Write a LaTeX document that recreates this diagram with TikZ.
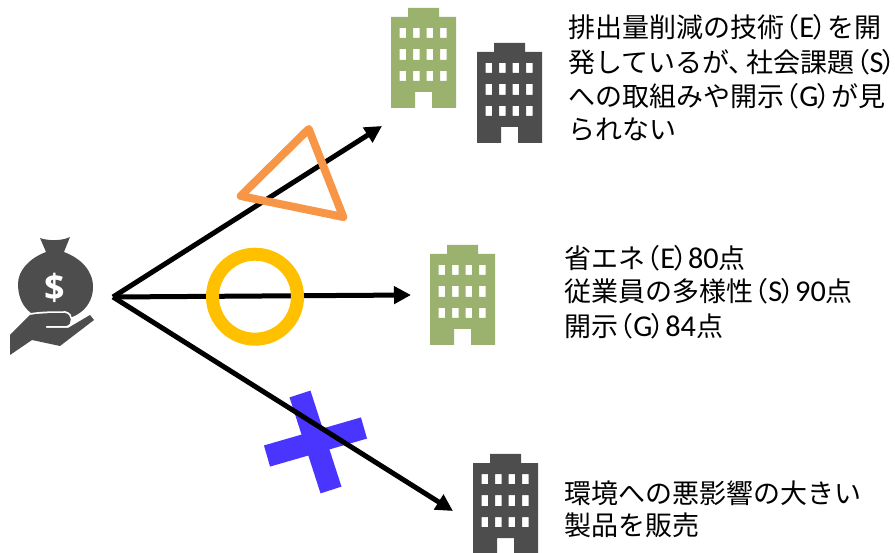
\documentclass[tikz,border=0pt]{standalone}
\usepackage{fontspec}
\setmainfont{Noto Sans CJK JP}
\newfontfamily\latinf[Scale=1.12]{Carlito}
\newfontfamily\dollarf{Open Sans}
\usetikzlibrary{arrows.meta}
\definecolor{bgreen}{HTML}{9BB26F}
\definecolor{bdark}{HTML}{4D4D4D}
\definecolor{oorange}{HTML}{F79646}
\definecolor{oyellow}{HTML}{FFC000}
\definecolor{xblue}{HTML}{4A35FF}
\newcommand{\pl}[1]{\hspace{-.42em}（\hspace{-.02em}{\latinf #1}\hspace{-.06em}）\hspace{-.46em}}
\newcommand{\lt}[1]{{\latinf #1}}
\tikzset{
  arrowline/.style={line width=5pt,-{Triangle[length=17pt,width=17pt]}},
  txt/.style={anchor=west,inner sep=0pt,font=\fontsize{27pt}{27pt}\selectfont,text=black},
  pics/building/.style={code={
    \fill[#1,even odd rule] (17,-8) -- (48,-8) -- (48,-17) -- (65,-17) -- (65,-108) -- (41,-108) -- (41,-92) -- (24,-92) -- (24,-108) -- (0,-108) -- (0,-17) -- (17,-17) -- cycle
    (8.5,-28) rectangle (15,-38) (22,-28) rectangle (28.5,-38) (35.5,-28) rectangle (42,-38) (49,-28) rectangle (55.5,-38)
    (8.5,-49) rectangle (15,-60) (22,-49) rectangle (28.5,-60) (35.5,-49) rectangle (42,-60) (49,-49) rectangle (55.5,-60)
    (8.5,-71) rectangle (15,-81) (22,-71) rectangle (28.5,-81) (35.5,-71) rectangle (42,-81) (49,-71) rectangle (55.5,-81);
  }}
}
\begin{document}
\begin{tikzpicture}[x=1pt,y=-1pt]
\useasboundingbox (0,0) rectangle (895,553);
% buildings
\begin{scope}[y=1pt]
\pic at (391,-0) {building=bgreen};
\pic at (477,-35) {building=bdark};
\pic at (430,-237) {building=bgreen};
\pic at (473,-446) {building=bdark};
\end{scope}
% money bag
\fill[bdark] (40,238) .. controls (48,241) and (62,241) .. (70,237) -- (64,252) .. controls (80,258) and (93,270) .. (93,287) .. controls (93,306) and (78,320) .. (55,320) .. controls (32,320) and (18,306) .. (18,284) .. controls (18,270) and (30,258) .. (46,252) -- cycle;
\node[text=white,inner sep=0pt,font=\dollarf\bfseries\fontsize{36pt}{36pt}\selectfont] (dollar) at (55,288) {\$};
\path[fill=bdark,preaction={draw=white,line width=3.5pt}] (10,355) -- (10,335) -- (30,315) .. controls (40,313) and (55,313) .. (65,313) .. controls (72,314) and (73,325) .. (66,326) -- (46,326) -- (46,328) -- (68,328) -- (90,315) -- (94,320) -- (60,346) -- (32,340) -- cycle;
% marks below the arrows
\draw[xblue,line width=22pt] (300,394) -- (331,490);
\draw[xblue,line width=22pt] (267,456) -- (364,428);
% arrows
\coordinate (src) at (113,297);
\coordinate (t1) at (382,126);
\coordinate (t2) at (411,295);
\coordinate (t3) at (453,511);
\draw[arrowline] (src) -- (t1);
\draw[arrowline] (src) -- (t2);
\draw[arrowline] (src) -- (t3);
\draw[oyellow,line width=13pt] (255,296.7) circle (42.5);
\draw[oorange,line width=8pt,line join=round] (308.7,129) -- (343.3,217) -- (240.7,196) -- cycle;
% text
\node[txt] (a1) at (568,27) {排出量削減の技術\pl{E}を開};
\node[txt] (a2) at (568,62) {発しているが、\hspace{-.35em}社会課題\pl{S}};
\node[txt] (a3) at (568,96) {への取組みや開示\pl{G}が見};
\node[txt] (a4) at (568,130) {られない};
\node[txt] (b1) at (564,258) {省エネ\pl{E}\lt{80}点};
\node[txt] (b2) at (564,291) {従業員の多様性\pl{S}\lt{90}点};
\node[txt] (b3) at (564,326) {開示\pl{G}\lt{84}点};
\node[txt] (c1) at (564,493) {環境への悪影響の大きい};
\node[txt] (c2) at (564,525) {製品を販売};
\end{tikzpicture}
\end{document}
